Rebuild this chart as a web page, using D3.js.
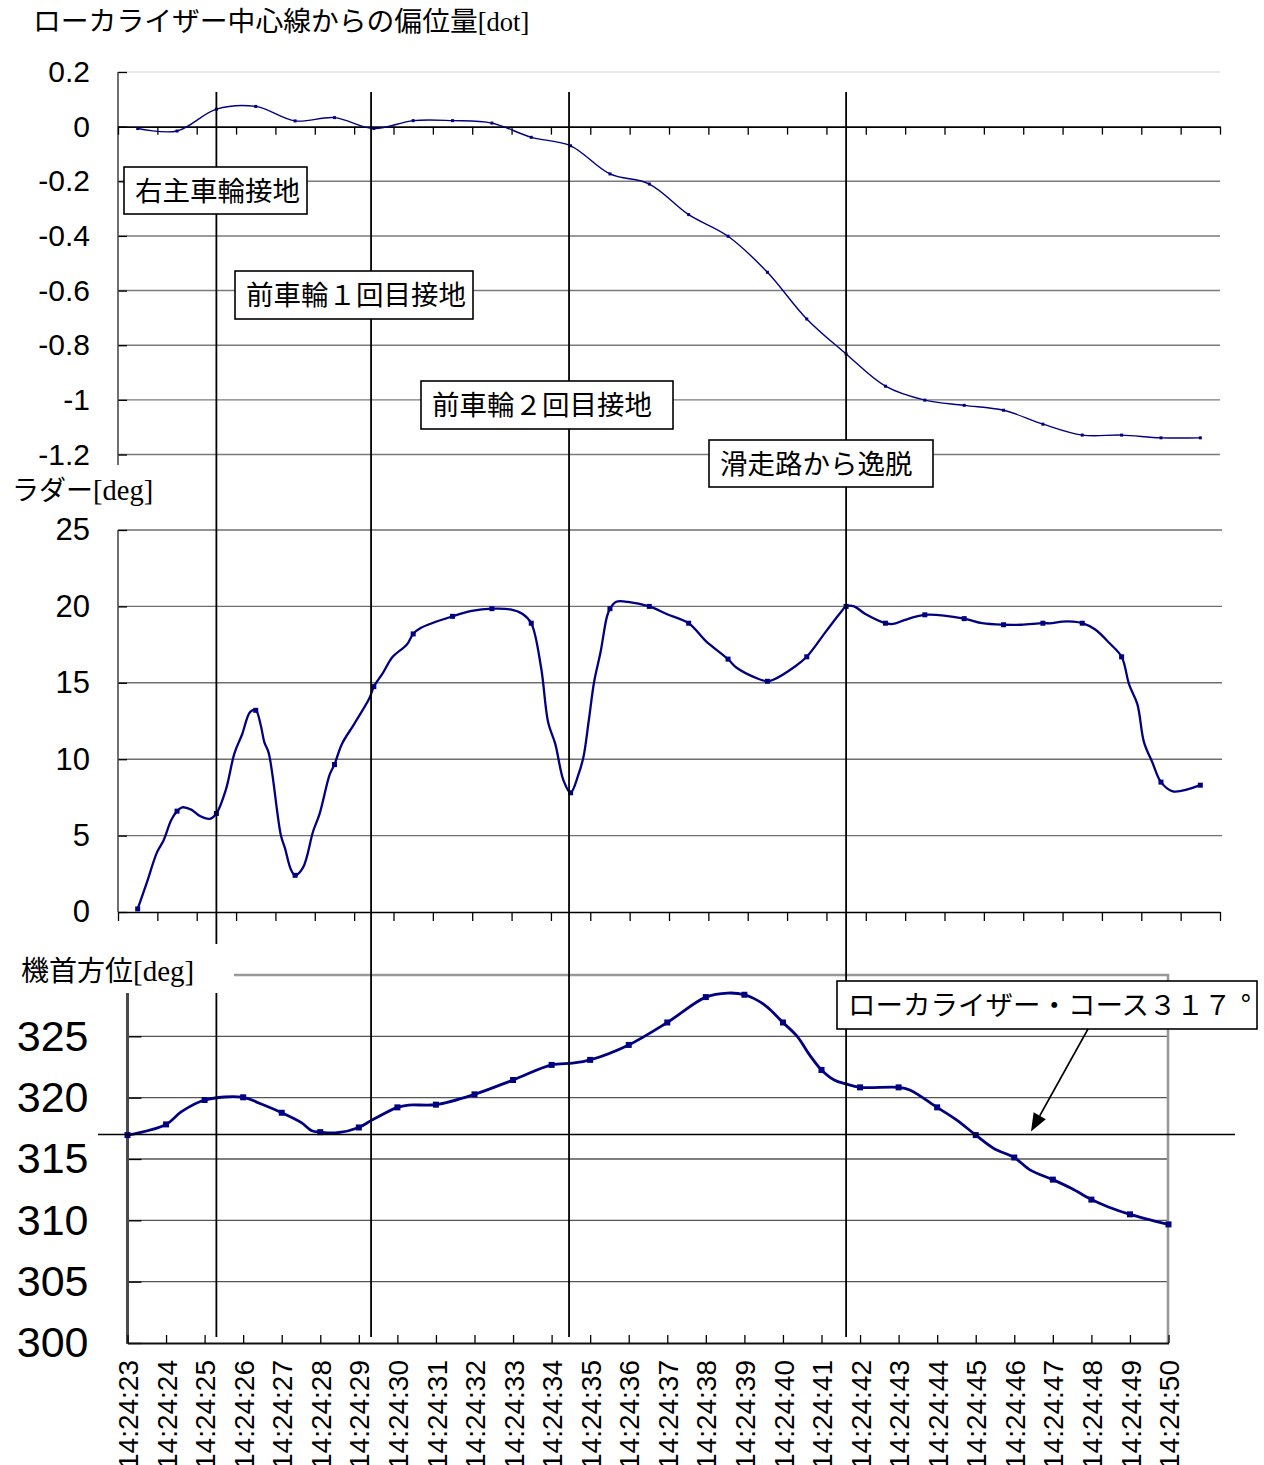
<!DOCTYPE html>
<html>
<head>
<meta charset="utf-8">
<script src="https://cdn.jsdelivr.net/npm/d3@7"></script>
<style>
  html, body { margin: 0; padding: 0; background: #fff; }
  svg { display: block; }
</style>
</head>
<body>
<svg id="chart" width="1264" height="1465"></svg>
<script>
// ---- data ---------------------------------------------------------------
const times = ["14:24:23","14:24:24","14:24:25","14:24:26","14:24:27","14:24:28","14:24:29",
  "14:24:30","14:24:31","14:24:32","14:24:33","14:24:34","14:24:35","14:24:36","14:24:37",
  "14:24:38","14:24:39","14:24:40","14:24:41","14:24:42","14:24:43","14:24:44","14:24:45",
  "14:24:46","14:24:47","14:24:48","14:24:49","14:24:50"];

// localizer deviation [dot], one value per second
const deviation = [-0.007, -0.016, 0.064, 0.074, 0.021, 0.033, -0.007, 0.022, 0.022, 0.013,
  -0.039, -0.070, -0.173, -0.210, -0.322, -0.401, -0.533, -0.704, -0.832, -0.950,
  -1.001, -1.020, -1.038, -1.089, -1.129, -1.129, -1.139, -1.139];

// rudder [deg]; time in seconds after 14:24:23 (sub-second samples included)
const rudderTime = [0, 0.23, 0.49, 0.66, 0.85, 1, 1.13, 1.36, 1.57, 1.83, 2, 2.24, 2.46, 2.65, 2.86,
  3, 3.12, 3.22, 3.33, 3.64, 3.74, 3.89, 4, 4.2, 4.46, 4.62, 4.88, 5, 5.19, 5.5, 5.89, 6, 6.22,
  6.48, 6.84, 7, 7.2, 8, 8.49, 9, 9.47, 9.78, 10, 10.25, 10.43, 10.61, 10.82, 11, 11.2, 11.33,
  11.46, 11.6, 11.76, 11.92, 12, 12.16, 12.45, 13, 13.44, 14, 14.43, 15, 15.21, 15.73, 16,
  16.15, 16.72, 17, 17.5, 17.86, 18, 18.2, 18.49, 19, 19.19, 19.48, 20, 21, 21.46, 22, 22.45,
  23, 23.23, 23.49, 23.77, 24, 24.32, 24.69, 25, 25.19, 25.4, 25.57, 25.78, 26, 26.3, 27];
const rudderValue = [0.2, 1.9, 3.9, 4.7, 6.0, 6.6, 6.85, 6.7, 6.3, 6.1, 6.45, 8.0, 10.4, 11.6, 13.1,
  13.2, 12.3, 11.1, 10.4, 5.0, 4.2, 2.8, 2.4, 2.9, 5.3, 6.4, 9.0, 9.65, 11.0, 12.3, 14.0, 14.75, 15.6,
  16.7, 17.5, 18.2, 18.6, 19.35, 19.7, 19.85, 19.8, 19.5, 18.9, 16.0, 12.4, 11.0, 8.6, 7.8, 9.0, 10.2,
  12.5, 15.1, 17.0, 19.3, 19.85, 20.3, 20.3, 20.0, 19.5, 18.9, 17.75, 16.55, 16.0, 15.3, 15.1,
  15.2, 16.1, 16.7, 18.4, 19.6, 20.0, 20.0, 19.5, 18.9, 18.85, 19.1, 19.45, 19.2, 18.9, 18.8, 18.8,
  18.9, 18.9, 19.0, 19.0, 18.9, 18.5, 17.6, 16.7, 14.9, 13.6, 11.1, 9.8, 8.5, 7.9, 8.3];

// aircraft heading [deg]; time in seconds after 14:24:23
const headingTime = [0, 1, 1.4, 2, 3, 3.42, 4, 4.51, 4.78, 5, 5.44, 6, 6.34, 7, 7.29, 8, 9, 10, 11,
  11.54, 12, 13, 14, 15, 15.57, 16, 16.52, 17, 17.37, 17.69, 18, 18.33, 18.63, 19, 20, 20.29, 21,
  21.51, 22, 22.47, 23, 23.42, 24, 24.49, 25, 25.44, 26, 27];
const headingValue = [316.95, 317.82, 318.86, 319.81, 320.03, 319.54, 318.77, 317.96, 317.3, 317.19,
  317.14, 317.57, 318.17, 319.21, 319.4, 319.43, 320.27, 321.44, 322.67, 322.81, 323.08, 324.3,
  326.13, 328.2, 328.53, 328.39, 327.57, 326.13, 324.99, 323.49, 322.26, 321.44, 321.12, 320.84,
  320.84, 320.63, 319.21, 318.17, 316.95, 315.86, 315.12, 314.09, 313.32, 312.59, 311.69, 311.09,
  310.49, 309.67];

const deviationTicks = [0.2, 0, -0.2, -0.4, -0.6, -0.8, -1, -1.2];
const rudderTicks = [25, 20, 15, 10, 5, 0];
const headingTicks = [325, 320, 315, 310, 305, 300];
const localizerCourse = 317;

// events, in seconds after 14:24:23
const eventTime = [2.0, 5.93, 10.96, 18.0];
const eventLabel = ["右主車輪接地", "前車輪１回目接地", "前車輪２回目接地", "滑走路から逸脱"];

// ---- layout -------------------------------------------------------------
const NAVY = "#000080";
const JP = "'Noto Sans CJK JP', 'Noto Sans', sans-serif";
const LATIN = "'Liberation Sans', Arial, sans-serif";
const SERIF = "'Liberation Serif', 'Times New Roman', serif";

// label boxes: [x, y, w, h]
const eventBox = [[124, 167, 183, 47], [235, 271, 238, 48], [421, 381, 252, 48], [709, 440, 224, 47]];
const courseBox = [837, 981, 420, 48];

const svg = d3.select("#chart");

const xTop = d3.scaleLinear().domain([-0.5, 27.5]).range([118, 1220]);
const yDev = d3.scaleLinear().domain([-1.2, 0.2]).range([454.5, 72]);
const yRud = d3.scaleLinear().domain([0, 25]).range([912, 530]);
const xBot = d3.scaleLinear().domain([0, 27]).range([127.5, 1168.5]);
const yHdg = d3.scaleLinear().domain([300, 330]).range([1343, 975]);

const gGrid = svg.append("g");
const gAxes = svg.append("g");
const gSeries = svg.append("g");
const gOver = svg.append("g");
const gBoxes = svg.append("g");

// ---- deviation panel ----------------------------------------------------
gGrid.selectAll(".gdev").data(deviationTicks.filter(d => d !== 0)).join("line")
  .attr("x1", 118).attr("x2", 1220)
  .attr("y1", d => yDev(d)).attr("y2", d => yDev(d))
  .attr("stroke", d => d === 0.2 ? "#e2e2e2" : "#7a7a7a").attr("stroke-width", 1.4);

function styleAxis(g, size) {
  g.attr("font-family", LATIN).attr("font-size", size);
  g.selectAll("text").attr("fill", "#000");
  g.selectAll(".tick line").attr("stroke", "#000").attr("stroke-width", 1.3);
}

gAxes.append("g").attr("transform", "translate(118,0)")
  .call(d3.axisLeft(yDev).tickValues(deviationTicks).tickSizeInner(-9).tickSizeOuter(0)
    .tickPadding(28).tickFormat(d => String(+d.toFixed(1))))
  .call(g => g.select(".domain").remove())
  .call(g => styleAxis(g, 30));
gAxes.append("line").attr("x1", 118).attr("x2", 118).attr("y1", 72).attr("y2", 465)
  .attr("stroke", "#404040").attr("stroke-width", 1.5);

gAxes.append("g").attr("transform", `translate(0,${yDev(0)})`)
  .call(d3.axisBottom(xTop).tickValues(d3.range(-0.5, 28, 1)).tickSizeInner(8).tickSizeOuter(0)
    .tickFormat(() => ""))
  .call(g => g.select(".domain").attr("stroke", "#000").attr("stroke-width", 1.6))
  .call(g => styleAxis(g, 27));

gSeries.append("path").datum(deviation)
  .attr("fill", "none").attr("stroke", NAVY).attr("stroke-width", 1.4)
  .attr("d", d3.line().x((d, i) => xTop(i)).y(d => yDev(d)).curve(d3.curveCatmullRom.alpha(0.5)));
gSeries.selectAll(".mdev").data(deviation).join("rect")
  .attr("x", (d, i) => xTop(i) - 1.5).attr("y", d => yDev(d) - 1.5)
  .attr("width", 3).attr("height", 3).attr("fill", NAVY);

// ---- rudder panel -------------------------------------------------------
gGrid.selectAll(".grud").data(rudderTicks.filter(d => d !== 0)).join("line")
  .attr("x1", 118).attr("x2", 1222)
  .attr("y1", d => yRud(d)).attr("y2", d => yRud(d))
  .attr("stroke", "#6f6f6f").attr("stroke-width", 1.4);

gAxes.append("g").attr("transform", "translate(118,0)")
  .call(d3.axisLeft(yRud).tickValues(rudderTicks).tickSizeInner(-9).tickSizeOuter(0)
    .tickPadding(28))
  .call(g => g.select(".domain").remove())
  .call(g => styleAxis(g, 31));
gAxes.append("line").attr("x1", 118).attr("x2", 118).attr("y1", yRud(25)).attr("y2", yRud(0))
  .attr("stroke", "#404040").attr("stroke-width", 1.5);

gAxes.append("g").attr("transform", `translate(0,${yRud(0)})`)
  .call(d3.axisBottom(xTop).tickValues(d3.range(-0.5, 28, 1)).tickSizeInner(9).tickSizeOuter(0)
    .tickFormat(() => ""))
  .call(g => g.select(".domain").attr("stroke", "#000").attr("stroke-width", 1.6))
  .call(g => styleAxis(g, 27));

const rudder = rudderTime.map((t, i) => [t, rudderValue[i]]);
gSeries.append("path").datum(rudder)
  .attr("fill", "none").attr("stroke", NAVY).attr("stroke-width", 2.3)
  .attr("d", d3.line().x(d => xTop(d[0])).y(d => yRud(d[1])).curve(d3.curveCatmullRom.alpha(0.5)));
gSeries.selectAll(".mrud").data(rudder.filter(d => Number.isInteger(d[0]))).join("rect")
  .attr("x", d => xTop(d[0]) - 2.5).attr("y", d => yRud(d[1]) - 2.5)
  .attr("width", 5).attr("height", 5).attr("fill", NAVY);

// ---- heading panel ------------------------------------------------------
gGrid.selectAll(".ghdg").data(headingTicks.filter(d => d !== 300)).join("line")
  .attr("x1", 127).attr("x2", 1168)
  .attr("y1", d => yHdg(d)).attr("y2", d => yHdg(d))
  .attr("stroke", "#555").attr("stroke-width", 1.3);

// plot frame (top and right)
gGrid.append("path")
  .attr("d", `M127,${yHdg(330)}H1168V${yHdg(300)}`)
  .attr("fill", "none").attr("stroke", "#999").attr("stroke-width", 2.6);

gAxes.append("g").attr("transform", "translate(127.5,0)")
  .call(d3.axisLeft(yHdg).tickValues(headingTicks).tickSizeInner(-14).tickSizeOuter(0)
    .tickPadding(39))
  .call(g => g.select(".domain").remove())
  .call(g => styleAxis(g, 43));
gAxes.append("line").attr("x1", 127.5).attr("x2", 127.5).attr("y1", 993).attr("y2", 1344)
  .attr("stroke", "#4a4a4a").attr("stroke-width", 3);

gAxes.append("g").attr("transform", `translate(0,${yHdg(300)})`)
  .call(d3.axisBottom(xBot).tickValues(d3.range(times.length)).tickSizeInner(-8).tickSizeOuter(0)
    .tickFormat(i => times[i]))
  .call(g => g.select(".domain").attr("stroke", "#111").attr("stroke-width", 2.2))
  .call(g => styleAxis(g, 28))
  .call(g => g.selectAll("text")
    .attr("transform", "rotate(-90)")
    .attr("text-anchor", "end")
    .attr("x", -17).attr("y", 0).attr("dy", "0.36em"));

// localizer course reference line
gOver.append("line").attr("x1", 98).attr("x2", 1235)
  .attr("y1", yHdg(localizerCourse)).attr("y2", yHdg(localizerCourse))
  .attr("stroke", "#000").attr("stroke-width", 1.6);

const heading = headingTime.map((t, i) => [t, headingValue[i]]);
gSeries.append("path").datum(heading)
  .attr("fill", "none").attr("stroke", NAVY).attr("stroke-width", 2.8)
  .attr("d", d3.line().x(d => xBot(d[0])).y(d => yHdg(d[1])).curve(d3.curveCatmullRom.alpha(0.5)));
gSeries.selectAll(".mhdg").data(heading.filter(d => Number.isInteger(d[0]))).join("rect")
  .attr("x", d => xBot(d[0]) - 3).attr("y", d => yHdg(d[1]) - 3)
  .attr("width", 6).attr("height", 6).attr("fill", NAVY);

// ---- event markers ------------------------------------------------------
gOver.selectAll(".ev").data(eventTime).join("line")
  .attr("x1", d => xTop(d)).attr("x2", d => xTop(d))
  .attr("y1", 92).attr("y2", 1337)
  .attr("stroke", "#000").attr("stroke-width", 1.8);

// ---- panel titles -------------------------------------------------------
function title(x, y, jp, latin, jpSize, latinSize) {
  const t = gBoxes.append("text").attr("x", x).attr("y", y).attr("fill", "#000");
  t.append("tspan").attr("font-family", JP).attr("font-size", jpSize).text(jp);
  t.append("tspan").attr("font-family", SERIF).attr("font-size", latinSize).text(latin);
}

// white backing behind the heading title
gBoxes.append("rect").attr("x", 0).attr("y", 944).attr("width", 234).attr("height", 49).attr("fill", "#fff");

title(33, 31, "ローカライザー中心線からの偏位量", "[dot]", 27.8, 26.5);
title(12, 500, "ラダー", "[deg]", 27, 28.5);
title(21, 981, "機首方位", "[deg]", 28, 29);

// ---- boxed labels -------------------------------------------------------
function boxLabel(b, parts) {
  gBoxes.append("rect").attr("x", b[0]).attr("y", b[1]).attr("width", b[2]).attr("height", b[3])
    .attr("fill", "#fff").attr("stroke", "#000").attr("stroke-width", 1.6);
  const t = gBoxes.append("text").attr("x", b[0] + 11).attr("y", b[1] + b[3] / 2 + 10)
    .attr("font-family", JP).attr("font-size", 27.5).attr("fill", "#000");
  [].concat(parts).forEach(p => t.append("tspan").attr("dx", p.dx || 0).text(p.text || p));
}
eventLabel.forEach((txt, i) => boxLabel(eventBox[i], txt));
boxLabel(courseBox, ["ローカライザー・コース３１７", { text: "°", dx: 9 }]);

// arrow from the course label down to the reference line
{
  const sx = 1088, sy = courseBox[1] + courseBox[3];
  const tx = 1031, ty = yHdg(localizerCourse) - 3;
  const dx = tx - sx, dy = ty - sy, len = Math.hypot(dx, dy);
  const ux = dx / len, uy = dy / len;
  const bx = tx - ux * 18, by = ty - uy * 18;
  gBoxes.append("line").attr("x1", sx).attr("y1", sy).attr("x2", bx).attr("y2", by)
    .attr("stroke", "#000").attr("stroke-width", 1.6);
  gBoxes.append("path")
    .attr("d", `M${tx},${ty}L${bx - uy * 7},${by + ux * 7}L${bx + uy * 7},${by - ux * 7}Z`)
    .attr("fill", "#000");
}
</script>
</body>
</html>
